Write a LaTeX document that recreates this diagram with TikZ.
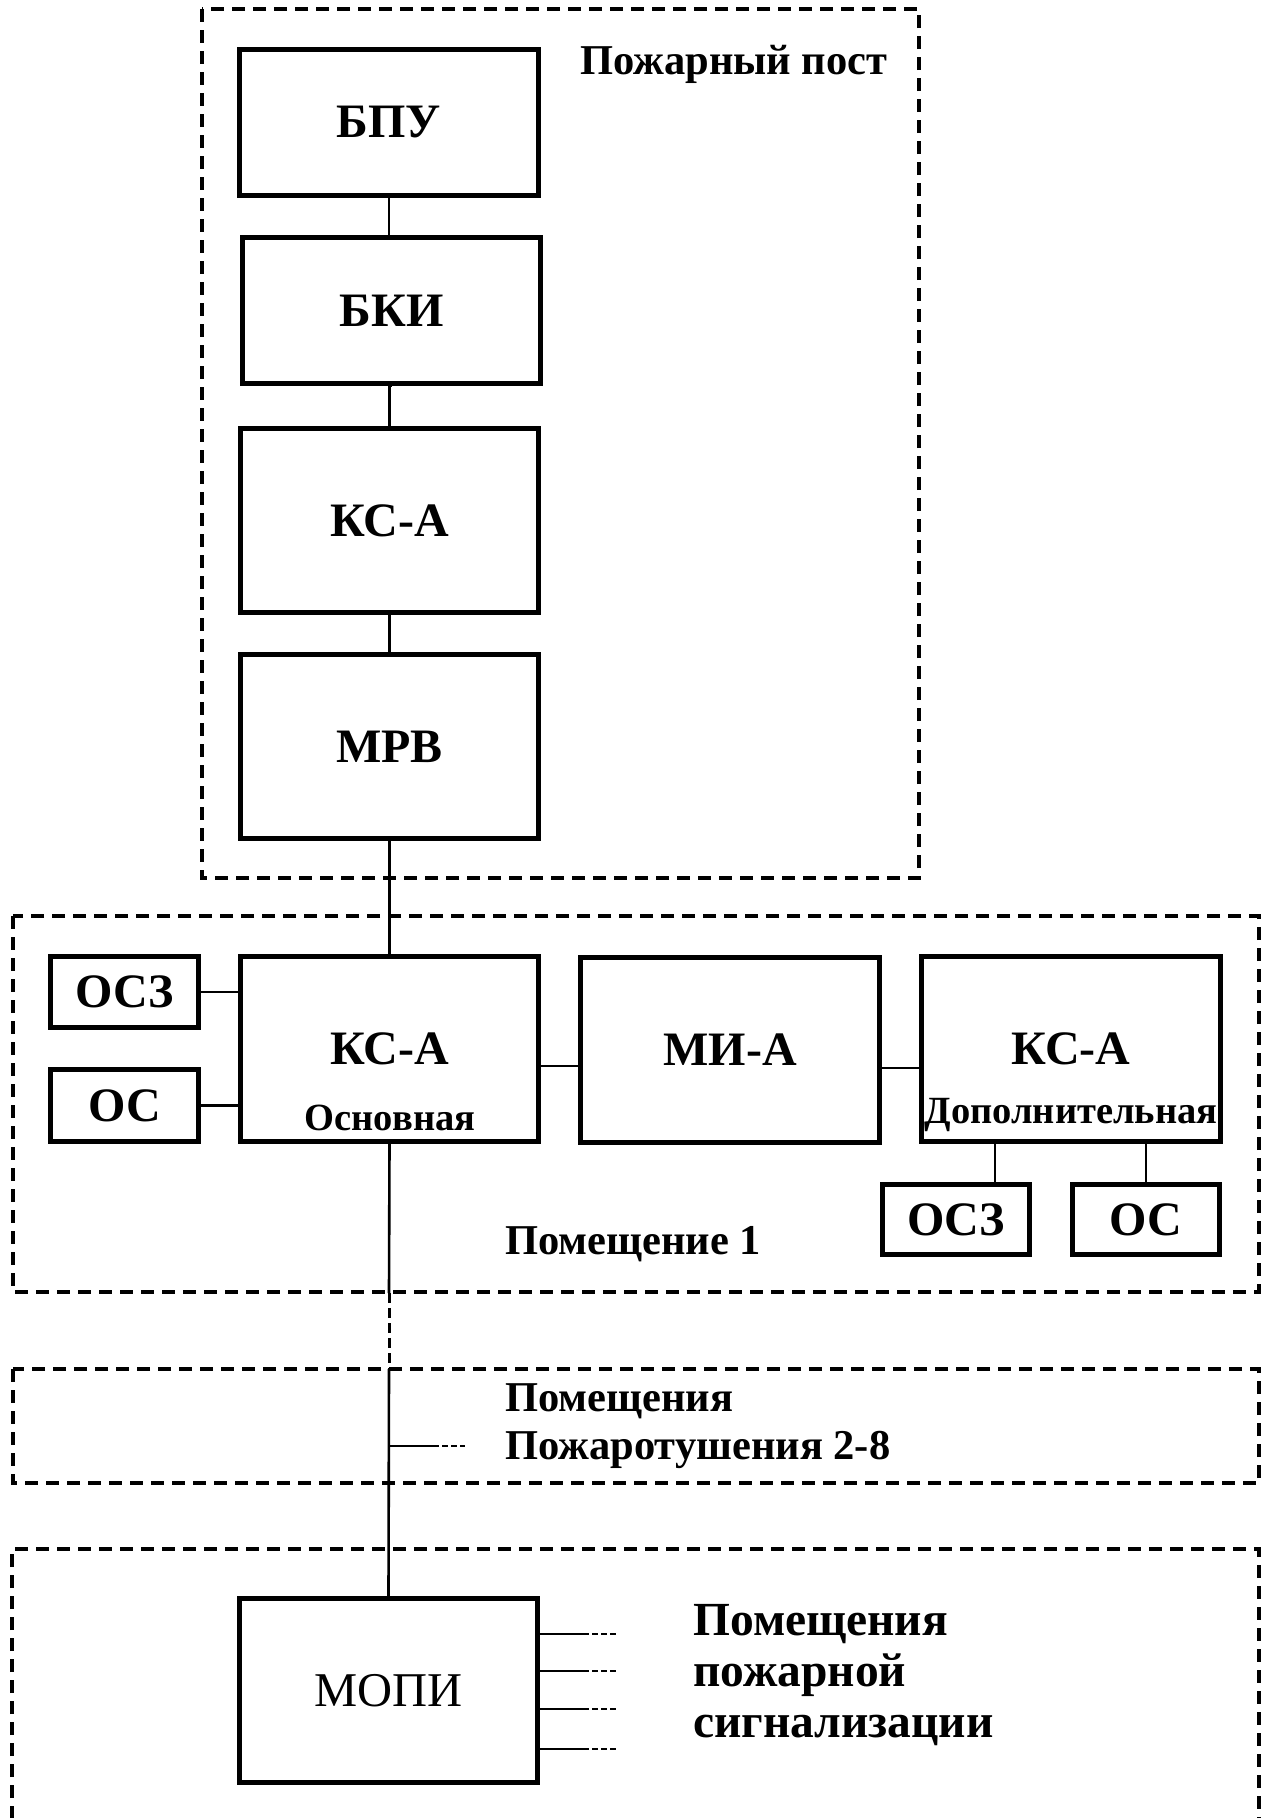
\documentclass[tikz,border=0pt]{standalone}
\usepackage{fontspec}
\setmainfont{Liberation Serif}
\begin{document}
\begin{tikzpicture}[x=1pt,y=-1pt]
\tikzset{
  blk/.style={draw, line width=5pt, inner sep=0pt, font=\bfseries\fontsize{48}{52}\selectfont},
  sblk/.style={blk, font=\bfseries\fontsize{48}{52}\selectfont},
  zone/.style={line width=3.5pt, dash pattern=on 13pt off 8pt},
  wire/.style={line width=2.6pt},
  dwire/.style={line width=3pt, dash pattern=on 10pt off 5pt},
  stub/.style={line width=2.6pt, dash pattern=on 6pt off 3pt},
  lbl/.style={font=\bfseries\fontsize{42.5}{48}\selectfont, inner sep=0pt},
  sub/.style={font=\bfseries\fontsize{38.5}{44}\selectfont, inner sep=0pt},
}
\fill[white] (0,0) rectangle (1262,1818);
\useasboundingbox (0,0) rectangle (1262,1818);
\clip (0,0) rectangle (1262,1818);

% zones
\draw[zone] (202,9) rectangle (919,878);
\draw[zone] (13,916) rectangle (1259,1292);
\draw[zone] (13,1369) rectangle (1259,1483);
\draw[zone] (12,1840) -- (12,1549) -- (1259,1549) -- (1259,1840);

% fire post
\node[blk, minimum width=299pt, minimum height=146pt] (bpu) at (389,122.5) {БПУ};
\node[blk, minimum width=298pt, minimum height=146pt] (bki) at (391.5,310.5) {БКИ};
\node[blk, minimum width=298pt, minimum height=184pt] (ksa1) at (389.5,520.5) {КС-А};
\node[blk, minimum width=298pt, minimum height=184pt] (mrv) at (389.5,746.5) {МРВ};
\node[lbl, anchor=base west] (post) at (580,74) {Пожарный пост};

\draw[wire] (bpu.south) -- (bpu.south |- bki.north);
\draw[wire] (bki.south) -- (bki.south -| ksa1.north) -- (ksa1.north);
\draw[wire] (ksa1.south) -- (mrv.north);

% room 1
\node[blk, minimum width=298pt, minimum height=185pt] (ksa2) at (389.5,1049) {};
\node[blk, draw=none, anchor=center] (ksa2t) at (389.5,1049) {КС-А};
\node[sub, anchor=base] (ksa2s) at (390,1130) {Основная};
\node[blk, minimum width=299pt, minimum height=185pt] (mia) at (730,1050) {МИ-А};
\node[blk, minimum width=299pt, minimum height=185pt] (ksa3) at (1071,1049) {};
\node[blk, draw=none, anchor=center] (ksa3t) at (1071,1049) {КС-А};
\node[sub, anchor=base] (ksa3s) at (1071,1123) {Дополнительная};
\node[sblk, minimum width=148pt, minimum height=71pt] (osz1) at (124.5,992) {ОСЗ};
\node[sblk, minimum width=148pt, minimum height=72pt] (os1) at (124.5,1105.5) {ОС};
\node[sblk, minimum width=147pt, minimum height=70pt] (osz2) at (956,1219.5) {ОСЗ};
\node[sblk, minimum width=147pt, minimum height=70pt] (os2) at (1146,1219.5) {ОС};
\node[lbl, anchor=base west] (room1) at (505,1254) {Помещение 1};

\draw[wire] (mrv.south) -- (ksa2.north);
\draw[wire] (osz1.east) -- (osz1.east -| ksa2.west);
\draw[wire] (os1.east) -- (os1.east -| ksa2.west);
\draw[wire] ([yshift=-17pt]ksa2.east) -- ([yshift=-17pt]ksa2.east -| mia.west);
\draw[wire] ([yshift=-18pt]mia.east) -- ([yshift=-18pt]mia.east -| ksa3.west);
\draw[wire] ([xshift=39pt]osz2.north) -- ([xshift=39pt]osz2.north |- ksa3.south);
\draw[wire] (os2.north) -- (os2.north |- ksa3.south);

% rooms 2-8
\node[lbl, anchor=base west] (rooms) at (505,1411) {Помещения};
\node[lbl, anchor=base west] (rooms2) at (505,1459) {Пожаротушения 2-8};

% MOPI
\node[draw, line width=5pt, inner sep=0pt, minimum width=298pt, minimum height=184pt, font=\fontsize{48.5}{56}\selectfont] (mopi) at (388.5,1690.5) {МОПИ};
\node[lbl, font=\bfseries\fontsize{47.5}{52}\selectfont, anchor=base west] (alarm1) at (693,1635) {Помещения};
\node[lbl, font=\bfseries\fontsize{47.5}{52}\selectfont, anchor=base west] (alarm2) at (693,1686) {пожарной};
\node[lbl, font=\bfseries\fontsize{47.5}{52}\selectfont, anchor=base west] (alarm3) at (693,1737) {сигнализации};

% main line
\coordinate (r1b) at (389,1293);
\coordinate (r2t) at (389,1369);
\coordinate (br) at (389,1446);
\coordinate (bs) at (433,1446);
\coordinate (be) at (465,1446);
\draw[wire] (ksa2.south) -- (r1b);
\draw[dwire] (r1b) -- (r2t);
\draw[wire] (r2t) -- (mopi.north);
\draw[wire] (br) -- (bs);
\draw[stub] (bs) -- (be);

\foreach \i/\y in {1/1634,2/1671,3/1709,4/1749}{
  \coordinate (s\i) at (583,\y);
  \coordinate (e\i) at (617,\y);
  \draw[wire] (mopi.east |- s\i) -- (s\i);
  \draw[stub] (s\i) -- (e\i);
}
\end{tikzpicture}
\end{document}
